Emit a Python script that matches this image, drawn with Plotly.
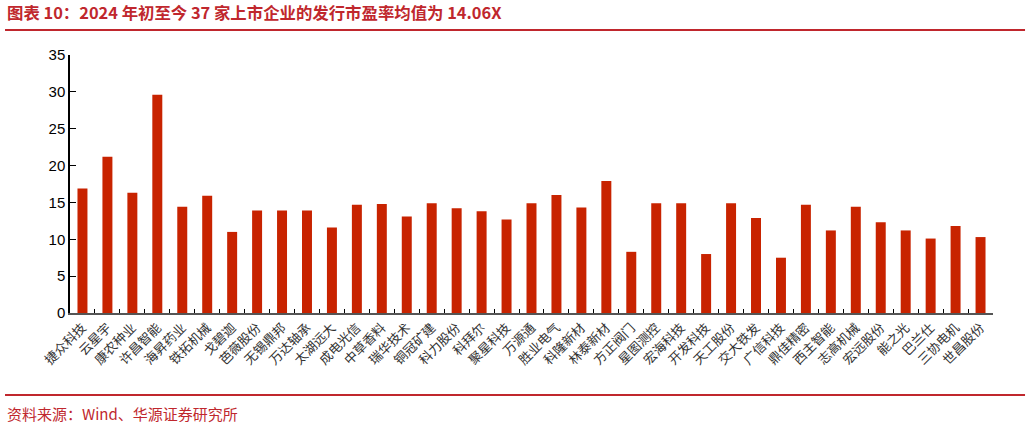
import plotly.graph_objects as go

# 37 companies listed since start of 2024, issue P/E
companies = [
    "捷众科技", "云星宇", "康农种业", "许昌智能", "海昇药业", "铁拓机械", "戈碧迦",
    "芭薇股份", "无锡鼎邦", "万达轴承", "太湖远大", "成电光信", "中草香料", "瑞华技术",
    "铜冠矿建", "科力股份", "科拜尔", "聚星科技", "万源通", "胜业电气", "科隆新材",
    "林泰新材", "方正阀门", "星图测控", "宏海科技", "开发科技", "天工股份", "交大铁发",
    "广信科技", "鼎佳精密", "西主智能", "志高机械", "宏远股份", "能之光", "巴兰仕",
    "三协电机", "世昌股份",
]
pe_values = [
    16.9, 21.2, 16.3, 29.6, 14.4, 15.9, 11.0,
    13.9, 13.9, 13.9, 11.6, 14.7, 14.8, 13.1,
    14.9, 14.2, 13.8, 12.7, 14.9, 16.0, 14.3,
    17.9, 8.3, 14.9, 14.9, 8.0, 14.9, 12.9,
    7.5, 14.7, 11.2, 14.4, 12.3, 11.2, 10.1,
    11.8, 10.3,
]
y_ticks = [0, 5, 10, 15, 20, 25, 30, 35]

title_text = "图表 10：2024 年初至今 37 家上市企业的发行市盈率均值为 14.06X"
source_text = "资料来源：Wind、华源证券研究所"

red = "#C0272D"
cjk = "Noto Sans CJK SC"

fig = go.Figure()
fig.add_trace(go.Bar(x=companies, y=pe_values, marker_color="#C82300",
                     marker_line_width=0))

fig.update_layout(
    width=1031, height=430,
    margin=dict(l=70, r=38, t=55, b=117),
    plot_bgcolor="white", paper_bgcolor="white",
    bargap=0.6, showlegend=False,
    font=dict(family=cjk, color="black"),
)
fig.update_yaxes(range=[0, 35], tickvals=y_ticks, showgrid=False,
                 showline=True, linecolor="black", linewidth=1.5,
                 ticks="inside", ticklen=6, tickcolor="black",
                 tickfont=dict(size=15, family="Liberation Sans"), zeroline=False)
fig.update_xaxes(showline=True, linecolor="#555555", linewidth=2,
                 ticks="inside", ticklen=4, tickcolor="black", tickson="boundaries",
                 tickangle=-45, tickfont=dict(size=13, family=cjk, color="#333333"))

# title, separator lines and source note
fig.add_annotation(text="<b>" + title_text + "</b>", xref="paper", yref="paper",
                   x=-0.0704, y=1.165, xanchor="left", yanchor="middle", showarrow=False,
                   font=dict(size=16.4, color=red, family=cjk))
fig.add_shape(type="line", xref="paper", yref="paper", x0=-0.0704, x1=1.0347,
              y0=1.097, y1=1.097, line=dict(color=red, width=2))
fig.add_shape(type="line", xref="paper", yref="paper", x0=-0.0704, x1=1.0347,
              y0=-0.318, y1=-0.318, line=dict(color=red, width=2))
fig.add_annotation(text=source_text, xref="paper", yref="paper",
                   x=-0.0704, y=-0.388, xanchor="left", yanchor="middle", showarrow=False,
                   font=dict(size=15, color=red, family=cjk))

fig.write_html("out.html", config={"displayModeBar": False},
               post_script="document.body.style.margin='0px';")
